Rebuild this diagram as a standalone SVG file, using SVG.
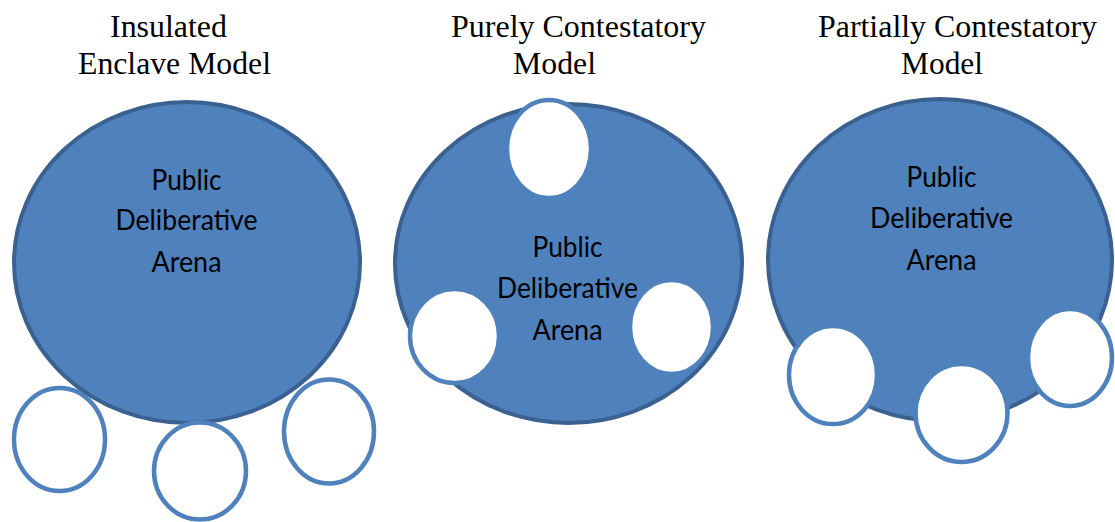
<svg xmlns="http://www.w3.org/2000/svg" width="1115" height="522" viewBox="0 0 1115 522">
<style>
.big{fill:#4F81BD;stroke:#3A6190;stroke-width:4}
.small{fill:#FFFFFF;stroke:#4F81BD;stroke-width:4.5}
.title{font-family:"Liberation Serif",serif;font-size:31.5px;fill:#000;text-anchor:middle}
.lbl{font-family:Lato,"Open Sans",sans-serif;font-size:28px;fill:#000;text-anchor:middle}
</style>
<rect width="1115" height="522" fill="#FFFFFF"/>
<g id="titles">
<text class="title" x="168.5" y="37" textLength="117" lengthAdjust="spacingAndGlyphs">Insulated</text>
<text class="title" x="174.5" y="74" textLength="193" lengthAdjust="spacingAndGlyphs">Enclave Model</text>
<text class="title" x="578.5" y="37" textLength="255" lengthAdjust="spacingAndGlyphs">Purely Contestatory</text>
<text class="title" x="554.5" y="74" textLength="83" lengthAdjust="spacingAndGlyphs">Model</text>
<text class="title" x="957.5" y="37" textLength="279" lengthAdjust="spacingAndGlyphs">Partially Contestatory</text>
<text class="title" x="942" y="74" textLength="82" lengthAdjust="spacingAndGlyphs">Model</text>
</g>
<g id="insulated">
<ellipse class="big" cx="187" cy="262.5" rx="173" ry="160.5"/>
<text class="lbl" x="186.5" y="190" textLength="70" lengthAdjust="spacingAndGlyphs">Public</text>
<text class="lbl" x="186.5" y="230" textLength="142" lengthAdjust="spacingAndGlyphs">Deliberative</text>
<text class="lbl" x="186.5" y="272" textLength="70" lengthAdjust="spacingAndGlyphs">Arena</text>
<ellipse class="small" cx="59.5" cy="439.5" rx="45.5" ry="51.5"/>
<ellipse class="small" cx="200" cy="471" rx="46" ry="48.5"/>
<ellipse class="small" cx="329" cy="431.5" rx="45" ry="52"/>
</g>
<g id="purely">
<ellipse class="big" cx="568.5" cy="263.5" rx="173.5" ry="159.5"/>
<text class="lbl" x="567.5" y="257" textLength="70" lengthAdjust="spacingAndGlyphs">Public</text>
<text class="lbl" x="567.5" y="298" textLength="141" lengthAdjust="spacingAndGlyphs">Deliberative</text>
<text class="lbl" x="567.5" y="340" textLength="70" lengthAdjust="spacingAndGlyphs">Arena</text>
<ellipse class="small" cx="549" cy="149" rx="42" ry="49"/>
<ellipse class="small" cx="454.5" cy="336" rx="44.5" ry="47"/>
<ellipse class="small" cx="671.5" cy="327" rx="41.5" ry="47"/>
</g>
<g id="partially">
<ellipse class="big" cx="940" cy="260" rx="172" ry="161"/>
<text class="lbl" x="941.5" y="187" textLength="70" lengthAdjust="spacingAndGlyphs">Public</text>
<text class="lbl" x="941.5" y="228" textLength="143" lengthAdjust="spacingAndGlyphs">Deliberative</text>
<text class="lbl" x="941.5" y="270" textLength="70" lengthAdjust="spacingAndGlyphs">Arena</text>
<ellipse class="small" cx="833" cy="375" rx="44" ry="49"/>
<ellipse class="small" cx="961.5" cy="413" rx="46" ry="49"/>
<ellipse class="small" cx="1070" cy="357.5" rx="42" ry="48.5"/>
</g>
<g id="connectors"/>
</svg>
